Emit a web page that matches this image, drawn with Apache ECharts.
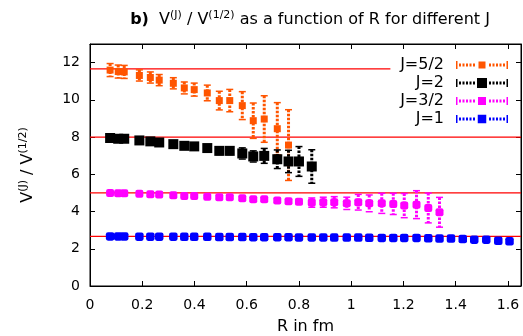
<!DOCTYPE html>
<html><head><meta charset="utf-8">
<script src="https://cdn.jsdelivr.net/npm/echarts@6/dist/echarts.min.js"></script>
<style>html,body{margin:0;padding:0;background:#fff}#c{width:523px;height:336px}</style>
</head><body><div id="c"></div>
<script>
// ---- data ----
const R = [0.077,0.108,0.131,0.189,0.231,0.265,0.319,0.361,0.399,0.449,0.495,0.535,0.583,0.625,0.667,0.717,0.760,0.800,0.849,0.893,0.935,0.983,1.027,1.069,1.117,1.161,1.203,1.250,1.295,1.338,1.382,1.427,1.471,1.517,1.563,1.606];
const J52 = [11.60,11.52,11.50,11.31,11.20,11.06,10.89,10.64,10.55,10.37,9.96,9.96,9.69,8.88,8.97,8.45,7.57];
const J52err = [0.35,0.35,0.35,0.3,0.3,0.3,0.3,0.32,0.35,0.42,0.5,0.6,0.75,0.95,1.25,1.4,1.9];
const J2 = [7.95,7.91,7.91,7.82,7.77,7.71,7.62,7.53,7.50,7.41,7.26,7.26,7.12,6.96,6.99,6.81,6.69,6.69,6.42];
const J2err = [0.15,0.15,0.15,0.15,0.15,0.15,0.15,0.15,0.15,0.18,0.2,0.2,0.3,0.3,0.4,0.5,0.6,0.8,0.9];
const J32 = [5.00,4.98,4.98,4.95,4.93,4.91,4.87,4.84,4.84,4.80,4.77,4.77,4.71,4.66,4.66,4.59,4.55,4.53,4.48,4.50,4.50,4.44,4.50,4.44,4.44,4.41,4.32,4.37,4.19,3.96];
const J32err = [0.06,0.06,0.06,0.06,0.06,0.06,0.06,0.06,0.06,0.06,0.06,0.06,0.07,0.08,0.08,0.1,0.1,0.12,0.25,0.27,0.3,0.33,0.42,0.45,0.54,0.57,0.65,0.75,0.8,0.8];
const J1 = [2.66,2.66,2.66,2.65,2.65,2.65,2.65,2.64,2.64,2.64,2.63,2.63,2.63,2.62,2.62,2.62,2.62,2.61,2.61,2.61,2.60,2.60,2.60,2.59,2.58,2.58,2.58,2.58,2.56,2.55,2.55,2.52,2.49,2.49,2.43,2.40];
const J1err = [0.05,0.05,0.05,0.05,0.05,0.05,0.05,0.05,0.05,0.05,0.05,0.05,0.05,0.05,0.05,0.05,0.05,0.05,0.05,0.05,0.06,0.06,0.06,0.06,0.06,0.06,0.06,0.06,0.08,0.08,0.08,0.08,0.1,0.1,0.1,0.1];
// reference (Casimir ratio) lines: [xStart, xEnd, value]
const refLines = [[0,1.15,11.667],[0,1.65,8],[0,1.65,5],[0,1.65,2.667]];
const names = ['J=5/2','J=2','J=3/2','J=1'];
const xTicks = {min:0, max:1.65, interval:0.2};
const yTicks = {min:0, max:13, interval:2};

const colors = ['#ff5500','#000000','#ff00ff','#0000ff'];
const vals = [J52,J2,J32,J1];
const errs = [J52err,J2err,J32err,J1err];
const symSize = [7,10,8,8.5];
const symType = ['rect','rect','roundRect','roundRect'];

function legendIcon(m){
  // 52 x 10 box: caps, dashes, center marker
  let p = 'path://M0 1 L1.5 1 L1.5 9 L0 9 Z ';
  [3,6.5,10,13.5,17].forEach(x=>{p+='M'+x+' 3.5 L'+(x+2)+' 3.5 L'+(x+2)+' 6.5 L'+x+' 6.5 Z ';});
  const c0 = 26-m/2, c1 = 26+m/2, t = 5-m/2, b = 5+m/2;
  p += 'M'+c0+' '+t+' L'+c1+' '+t+' L'+c1+' '+b+' L'+c0+' '+b+' Z ';
  [33,36.5,40,43.5,47].forEach(x=>{p+='M'+x+' 3.5 L'+(x+2)+' 3.5 L'+(x+2)+' 6.5 L'+x+' 6.5 Z ';});
  p += 'M50.5 1 L52 1 L52 9 L50.5 9 Z';
  return p;
}

const FONT = 'DejaVu Sans';
const series = [];
refLines.forEach((l,i)=>{
  series.push({type:'line', data:[[l[0],l[2]],[l[1],l[2]]], symbol:'none', silent:true,
    lineStyle:{color:'#ff0000', width:1.2}, z:1});
});
vals.forEach((v,k)=>{
  const ebData = v.map((y,i)=>[R[i], y-errs[k][i], y+errs[k][i]]);
  series.push({type:'custom', z:2, silent:true, data:ebData,
    renderItem:function(params, api){
      const top = api.coord([api.value(0), api.value(2)]);
      const bot = api.coord([api.value(0), api.value(1)]);
      const st = {stroke: colors[k], lineWidth: 3, lineDash:[2.5,1.5]};
      return {type:'group', children:[
        {type:'line', shape:{x1:top[0],y1:top[1],x2:bot[0],y2:bot[1]}, style:st},
        {type:'line', shape:{x1:top[0]-3.5,y1:top[1],x2:top[0]+3.5,y2:top[1]}, style:{stroke:colors[k], lineWidth:1.5}},
        {type:'line', shape:{x1:bot[0]-3.5,y1:bot[1],x2:bot[0]+3.5,y2:bot[1]}, style:{stroke:colors[k], lineWidth:1.5}}
      ]};
    }});
  series.push({type:'scatter', name:names[k], z:3, data:v.map((y,i)=>[R[i],y]),
    symbol:symType[k], symbolSize:symSize[k], itemStyle:{color:colors[k], opacity:1}});
});

const axisCommon = {
  axisLine:{show:true, onZero:false, lineStyle:{color:'#000', width:1}},
  axisTick:{show:true, inside:true, length:5, lineStyle:{color:'#000'}},
  splitLine:{show:false}
};
const chart = echarts.init(document.getElementById('c'), null, {renderer:'canvas'});
chart.setOption({
  animation:false,
  backgroundColor:'#fff',
  textStyle:{fontFamily:FONT},
  title:{
    text:'{b|b)}  V{s|(J)} / V{s|(1/2)} as a function of R for different J',
    left:305, top:5, textAlign:'center',
    textStyle:{fontFamily:FONT, fontSize:16, fontWeight:'normal', color:'#000', lineHeight:20,
      rich:{b:{fontFamily:FONT, fontSize:16, fontWeight:'bold', color:'#000', lineHeight:20},
            s:{fontFamily:FONT, fontSize:11, color:'#000', verticalAlign:'top', lineHeight:20, padding:[0,0,6,0]}}}
  },
  legend:{
    orient:'vertical', right:10, top:52, align:'right',
    itemWidth:52, itemHeight:10, itemGap:2,
    textStyle:{fontFamily:FONT, fontSize:16, color:'#000', padding:[0,7,0,0]},
    data:names.map((n,k)=>({name:n, icon:legendIcon(symSize[k])}))
  },
  grid:{left:90, right:2, top:44, bottom:50, containLabel:false, outerBoundsMode:'none',
    show:true, borderColor:'#000', borderWidth:1},
  xAxis:[
    Object.assign({type:'value', position:'bottom', min:xTicks.min, max:xTicks.max, interval:xTicks.interval,
      name:'R in fm', nameLocation:'middle', nameGap:33,
      nameTextStyle:{fontFamily:FONT, fontSize:16, color:'#000'},
      axisLabel:{show:true, fontFamily:FONT, fontSize:14, color:'#000', margin:12, showMaxLabel:false}}, axisCommon),
    Object.assign({type:'value', position:'top', min:xTicks.min, max:xTicks.max, interval:xTicks.interval,
      axisLabel:{show:false}}, axisCommon)
  ],
  yAxis:[
    Object.assign({type:'value', position:'left', min:yTicks.min, max:yTicks.max, interval:yTicks.interval,
      name:'V{s|(J)} / V{s|(1/2)}', nameLocation:'middle', nameGap:52, nameRotate:90,
      nameTextStyle:{fontFamily:FONT, fontSize:16, color:'#000', lineHeight:20,
        rich:{s:{fontFamily:FONT, fontSize:11, color:'#000', verticalAlign:'top', lineHeight:20, padding:[0,0,6,0]}}},
      axisLabel:{show:true, fontFamily:FONT, fontSize:14, color:'#000', margin:10, showMaxLabel:false}}, axisCommon),
    Object.assign({type:'value', position:'right', min:yTicks.min, max:yTicks.max, interval:yTicks.interval,
      axisLabel:{show:false}}, axisCommon)
  ],
  series:series
});
</script></body></html>
